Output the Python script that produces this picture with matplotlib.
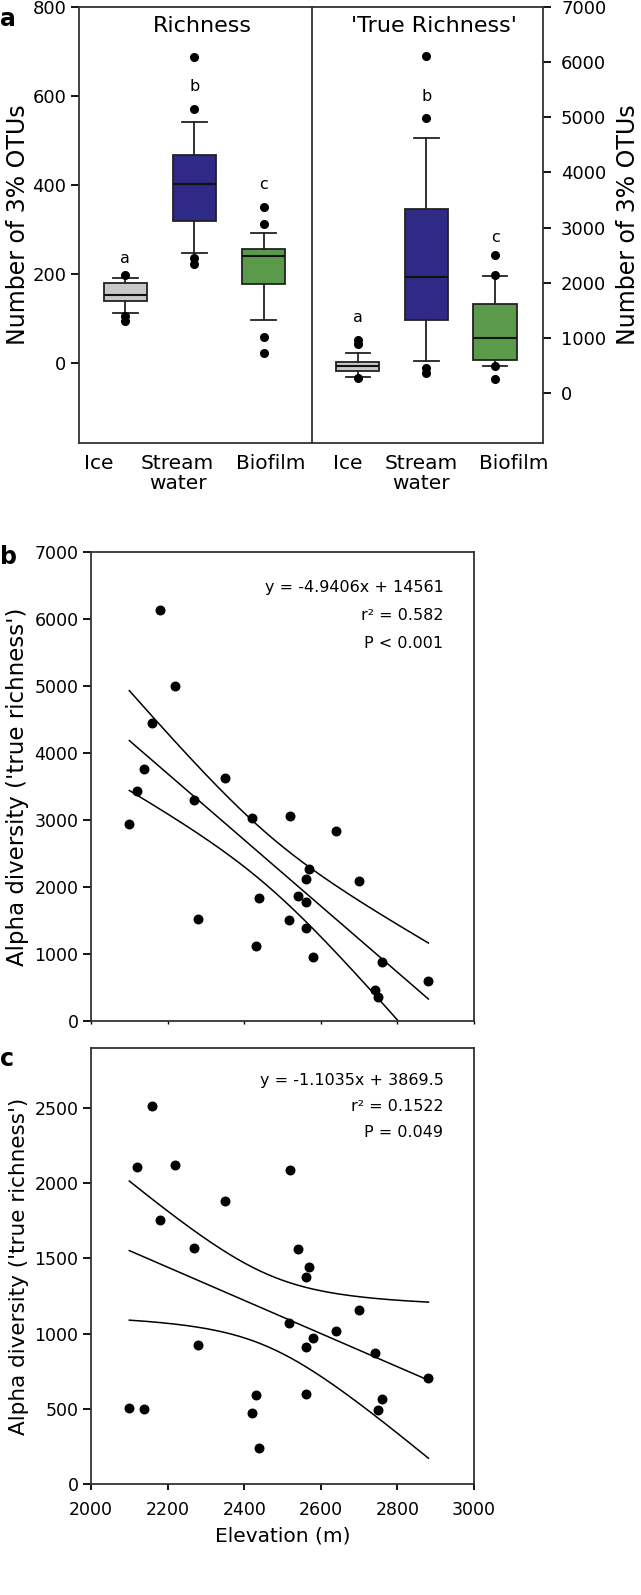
import numpy as np
import matplotlib
matplotlib.use("Agg")
import matplotlib.pyplot as plt

plt.rcParams['font.family'] = ['DejaVu Sans']

# ---- panel a: box plots ----
groups = ["Ice", "Stream\nwater", "Biofilm"]
box_colors = ["#c8c8c8", "#2f2a85", "#5a9a4a"]
letters = ["a", "b", "c"]

# observed richness
rich_q1 = [140, 318, 178]
rich_med = [153, 403, 239]
rich_q3 = [180, 468, 256]
rich_lo = [112, 247, 97]
rich_hi = [191, 541, 292]
rich_fliers = [[198, 106, 95], [688, 570, 236, 222], [350, 312, 57, 22]]
rich_letter_y = [235, 620, 400]

# 'true richness'
true_q1 = [399, 1324, 598]
true_med = [490, 2103, 997]
true_q3 = [562, 3336, 1613]
true_lo = [290, 580, 490]
true_hi = [725, 4623, 2121]
true_fliers = [[961, 900, 272], [6110, 4986, 453, 363], [2502, 2140, 490, 254]]
true_letter_y = [1378, 5370, 2830]

# ---- panels b and c: elevation scatter ----
elevation = [2100, 2119, 2139, 2160, 2180, 2219, 2270, 2280, 2350, 2420, 2430, 2439, 2516,
             2520, 2540, 2560, 2560, 2560, 2570, 2580, 2640, 2700, 2741, 2749, 2761, 2881]
alpha_b = [2938, 3436, 3754, 4455, 6130, 4997, 3296, 1521, 3634, 3033, 1124, 1840, 1506,
           3063, 1864, 2113, 1780, 1382, 2267, 950, 2839, 2083, 462, 363, 885, 602]
elevation_c = [2100, 2119, 2139, 2160, 2180, 2219, 2270, 2280, 2350, 2420, 2430, 2439, 2516,
               2520, 2540, 2560, 2560, 2560, 2570, 2580, 2640, 2700, 2741, 2749, 2761, 2881]
alpha_c = [504, 2111, 500, 2511, 1755, 2122, 1569, 927, 1884, 471, 591, 242, 1069,
           2087, 1564, 1378, 909, 598, 1444, 971, 1016, 1160, 873, 489, 564, 704]

fit_b = (-4.9406, 14561)
fit_c = (-1.1035, 3869.5)
text_b = ["y = -4.9406x + 14561", "r² = 0.582", "P < 0.001"]
text_c = ["y = -1.1035x + 3869.5", "r² = 0.1522", "P = 0.049"]

fig = plt.figure(figsize=(6.41, 15.95), dpi=100)
EDGE = "#222222"


def boxes(ax, q1, med, q3, lo, hi, fliers, label_x):
    stats = []
    for i in range(3):
        stats.append(dict(q1=q1[i], med=med[i], q3=q3[i], whislo=lo[i], whishi=hi[i],
                          fliers=fliers[i]))
    bp = ax.bxp(stats, positions=[1, 2, 3], widths=0.63, patch_artist=True,
                boxprops=dict(linewidth=1.3, edgecolor=EDGE),
                medianprops=dict(color="#111111", linewidth=1.5),
                whiskerprops=dict(linewidth=1.3, color=EDGE),
                capprops=dict(linewidth=1.3, color=EDGE),
                capwidths=0.36,
                flierprops=dict(marker="o", markerfacecolor="black", markeredgecolor="black",
                                markersize=5.5))
    for patch, c in zip(bp["boxes"], box_colors):
        patch.set_facecolor(c)
    ax.set_xlim(0.33, 3.7)
    ax.set_xticks([])
    # group labels sit spread out under the boxes
    for g, lx in zip(groups, label_x):
        ax.text(lx, -0.025, g, transform=ax.transAxes, ha="center", va="top",
                fontsize=14.5, linespacing=1.1)
    for s in ax.spines.values():
        s.set_linewidth(1.3)
        s.set_color("#333333")


# panel a left
axl = fig.add_axes([0.1232, 0.7223, 0.3635, 0.2734])
boxes(axl, rich_q1, rich_med, rich_q3, rich_lo, rich_hi, rich_fliers, [0.086, 0.423, 0.824])
axl.set_ylim(-180, 800)
axl.set_yticks([0, 200, 400, 600, 800])
axl.tick_params(axis="y", labelsize=13, length=6, width=1.3, pad=3)
axl.set_ylabel("Number of 3% OTUs", fontsize=17, labelpad=2)
for i in range(3):
    axl.text(i + 1, rich_letter_y[i], letters[i], ha="center", va="center", fontsize=11.5)
axl.text(0.53, 0.955, "Richness", transform=axl.transAxes, ha="center", va="center", fontsize=16)
axl.spines["right"].set_visible(False)

# panel a right
axr = fig.add_axes([0.4867, 0.7223, 0.3604, 0.2734])
boxes(axr, true_q1, true_med, true_q3, true_lo, true_hi, true_fliers, [0.156, 0.472, 0.874])
axr.set_ylim(-900, 7000)
axr.set_yticks([0, 1000, 2000, 3000, 4000, 5000, 6000, 7000])
axr.yaxis.tick_right()
axr.yaxis.set_label_position("right")
axr.tick_params(axis="y", labelsize=13, length=6, width=1.3, pad=7)
axr.set_ylabel("Number of 3% OTUs", fontsize=17, labelpad=7, rotation=90)
for i in range(3):
    axr.text(i + 1, true_letter_y[i], letters[i], ha="center", va="center", fontsize=11.5)
axr.text(0.53, 0.955, "'True Richness'", transform=axr.transAxes, ha="center", va="center", fontsize=16)

fig.text(0.0, 0.9955, "a", fontsize=17, fontweight="bold", va="top")


def scatter_panel(ax, x, y, fit, lines, ylab_size):
    x = np.array(x, dtype=float)
    y = np.array(y, dtype=float)
    ax.scatter(x, y, s=38, color="black", zorder=3)
    slope, icpt = fit
    n = len(x)
    resid = y - (slope * x + icpt)
    s = np.sqrt(np.sum(resid ** 2) / (n - 2))
    sxx = np.sum((x - x.mean()) ** 2)
    xs = np.linspace(x.min(), x.max(), 200)
    ys = slope * xs + icpt
    half = 2.064 * s * np.sqrt(1 / n + (xs - x.mean()) ** 2 / sxx)
    ax.plot(xs, ys, color="black", lw=1.1)
    ax.plot(xs, ys + half, color="black", lw=1.1)
    ax.plot(xs, ys - half, color="black", lw=1.1)
    ax.set_xlim(2000, 3000)
    ax.set_xticks([2000, 2200, 2400, 2600, 2800, 3000])
    ax.tick_params(axis="y", labelsize=12.5, length=6, width=1.3, pad=3)
    for s_ in ax.spines.values():
        s_.set_linewidth(1.3)
        s_.set_color("#333333")
    for k, t in enumerate(lines):
        ax.text(0.92, 0.925 - k * 0.06, t, transform=ax.transAxes, ha="right", va="center",
                fontsize=11.5)
    ax.set_ylabel("Alpha diversity ('true richness')", fontsize=ylab_size, labelpad=4)


# panel b
axb = fig.add_axes([0.142, 0.3599, 0.5975, 0.294])
scatter_panel(axb, elevation, alpha_b, fit_b, text_b, 16.5)
axb.set_ylim(0, 7000)
axb.set_yticks(range(0, 7001, 1000))
axb.tick_params(axis="x", labelbottom=False, length=2, width=1.0)
fig.text(0.0, 1 - 545 / 1595, "b", fontsize=17, fontweight="bold", va="top")

# panel c
axc = fig.add_axes([0.142, 0.0696, 0.5975, 0.2734])
scatter_panel(axc, elevation_c, alpha_c, fit_c, text_c, 15.5)
axc.set_ylim(0, 2900)
axc.set_yticks([0, 500, 1000, 1500, 2000, 2500])
axc.tick_params(axis="x", labelsize=12.5, length=4, width=1.3, pad=8)
axc.set_xlabel("Elevation (m)", fontsize=14.5, labelpad=6)
fig.text(0.0, 1 - 1047 / 1595, "c", fontsize=17, fontweight="bold", va="top")

fig.savefig("out.png", dpi=100)
